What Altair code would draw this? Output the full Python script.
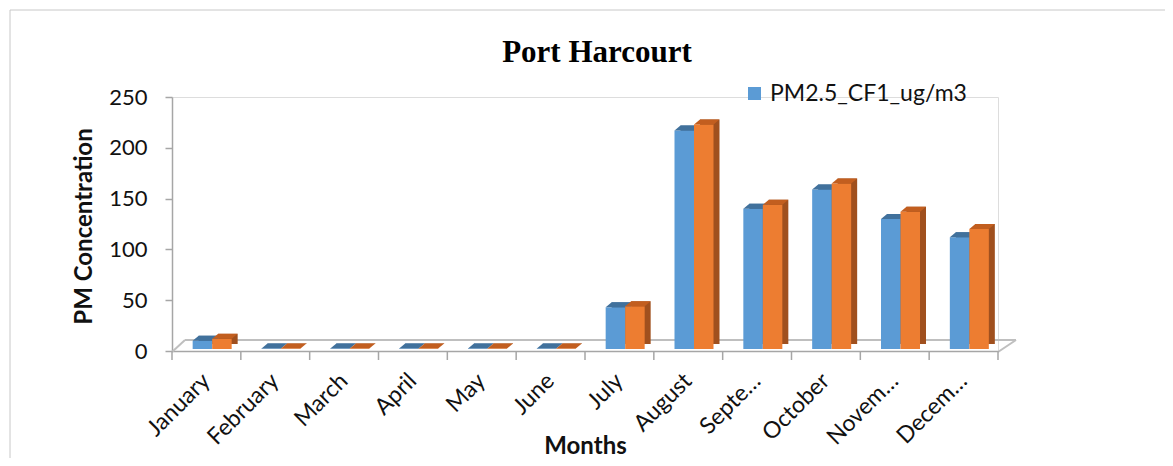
import altair as alt
import pandas as pd

months = ["January", "February", "March", "April", "May", "June", "July",
          "August", "Septe…", "October", "Novem…", "Decem…"]
series_names = ["PM2.5_CF1_ug/m3", "PM10_CF1_ug/m3"]
pm25 = [8, 0.5, 0.5, 0.5, 0.5, 0.5, 41, 215, 138, 157, 128, 110]
pm10 = [10, 0.5, 0.5, 0.5, 0.5, 0.5, 42, 221, 142, 163, 135, 118]
y_ticks = [0, 50, 100, 150, 200, 250]
title_text = "Port Harcourt"
x_title = "Months"
y_title = "PM Concentration"

rows = []
for m, a, b in zip(months, pm25, pm10):
    rows.append({"month": m, "series": series_names[0], "value": a})
    rows.append({"month": m, "series": series_names[1], "value": b})
df = pd.DataFrame(rows)

W, H = 826, 254
BAR_W = 19.5
DX, DY = 6, 5
BASE = -2
FONT = "Lato"
GREY = "#A6A6A6"
TXT = "#111111"

face_colors = ["#5B9BD5", "#ED7D31"]
top_colors = ["#41719C", "#C25E1F"]
side_colors = ["#3F6E98", "#A0501E"]
centers = [-4.0, 15.5]

xscale = alt.Scale(domain=months, paddingInner=0, paddingOuter=0)
yscale = alt.Scale(domain=[0, 250], nice=False)
color_scale = alt.Scale(domain=series_names, range=face_colors)

top_path = "M {a} 0 L {b} 0 L {c} {d} L {e} {d} Z".format(
    a=-BAR_W / 20, b=BAR_W / 20, c=BAR_W / 20 + DX / 10, d=-DY / 10,
    e=-BAR_W / 20 + DX / 10)

base = alt.Chart(df)

x_enc = alt.X("month:N", sort=months, scale=xscale,
              axis=alt.Axis(title=x_title, labelAngle=-45, labelAlign="right",
                            labelBaseline="middle", labelPadding=26,
                            labelFont=FONT, labelFontSize=23, labelColor=TXT,
                            labelLimit=0, ticks=False, domainColor=GREY,
                            domainWidth=1.5, titleFont=FONT, titleFontSize=24,
                            titleFontWeight="bold", titleColor=TXT,
                            titleY=107, titleBaseline="bottom"))
y_enc = alt.Y("value:Q", scale=yscale,
              axis=alt.Axis(title=y_title, values=y_ticks, grid=False, tickSize=7,
                            tickColor=GREY, domainColor=GREY, domainWidth=1.5,
                            tickWidth=1.5, labelPadding=18, labelFont=FONT,
                            labelFontSize=22, labelColor=TXT,
                            titleFont=FONT, titleFontSize=24, titleFontWeight="bold",
                            titleColor=TXT, titleAngle=-90, titleX=-81,
                            titleY=H / 2 + 2, titleAlign="center",
                            titleBaseline="alphabetic"))

layers = []

# floor and frame decoration
one = alt.Data(values=[{}])
floor_back = alt.Chart(one).mark_rule(color="#BFBFBF", strokeWidth=2).encode(
    x=alt.value(13), x2=alt.value(W + 18), y=alt.value(H - 11), y2=alt.value(H - 11))
floor_left = alt.Chart(one).mark_rule(color="#BFBFBF", strokeWidth=2).encode(
    x=alt.value(0), x2=alt.value(13), y=alt.value(H + 1), y2=alt.value(H - 11))
floor_right = alt.Chart(one).mark_rule(color="#BFBFBF", strokeWidth=2).encode(
    x=alt.value(W), x2=alt.value(W + 18), y=alt.value(H + 1), y2=alt.value(H - 11))
frame = alt.Chart(one).mark_rect(fill=None, stroke="#C8C8C8", strokeWidth=1).encode(
    x=alt.value(-162), x2=alt.value(1200), y=alt.value(-87), y2=alt.value(600))
layers += [frame, floor_back, floor_left, floor_right]

# category boundary ticks
tick_rules = alt.Chart(pd.DataFrame({"month": months})).mark_rule(
    color=GREY, strokeWidth=1.5, xOffset=-W / 24).encode(
    x=alt.X("month:N", sort=months, scale=xscale),
    y=alt.value(H), y2=alt.value(H + 9))
last_tick = alt.Chart(one).mark_rule(color=GREY, strokeWidth=1.5).encode(
    x=alt.value(W), x2=alt.value(W), y=alt.value(H), y2=alt.value(H + 9))
layers += [tick_rules, last_tick]

for i, s in enumerate(series_names):
    sub = base.transform_filter(alt.datum.series == s)
    side = sub.mark_bar(width=BAR_W, color=side_colors[i], xOffset=centers[i] + DX,
                        yOffset=BASE - DY, y2Offset=BASE - DY).encode(
        x=x_enc, y=y_enc, y2=alt.datum(0))
    face = sub.mark_bar(width=BAR_W, xOffset=centers[i], yOffset=BASE,
                        y2Offset=BASE).encode(
        x=x_enc, y=y_enc, y2=alt.datum(0),
        color=alt.Color("series:N", scale=color_scale,
                        legend=alt.Legend(values=[series_names[0]], orient="none",
                                          legendX=571, legendY=-15, title=None,
                                          symbolType="square", symbolSize=169,
                                          symbolStrokeWidth=0, labelFont=FONT,
                                          labelFontSize=23, labelColor=TXT,
                                          labelLimit=0, padding=0, labelOffset=4)))
    top = sub.mark_point(shape=top_path, size=400, filled=True, opacity=1,
                         strokeWidth=0, color=top_colors[i], xOffset=centers[i],
                         yOffset=BASE).encode(x=x_enc, y=y_enc)
    layers += [side, face, top]

title_layer = alt.Chart(one).mark_text(
    text=title_text, font="Liberation Serif", fontSize=31, fontWeight="bold",
    color="#000000", align="center", baseline="alphabetic").encode(
    x=alt.value(597 - 172), y=alt.value(62 - 97))
layers.append(title_layer)

chart = alt.layer(*layers).properties(
    width=W, height=H,
    autosize=alt.AutoSizeParams(type="none"),
    padding={"left": 164, "top": 89, "right": 167, "bottom": 107},
).configure_view(stroke=None).configure(background="white")

chart.save("out.html", embed_options={"renderer": "svg", "actions": False})
